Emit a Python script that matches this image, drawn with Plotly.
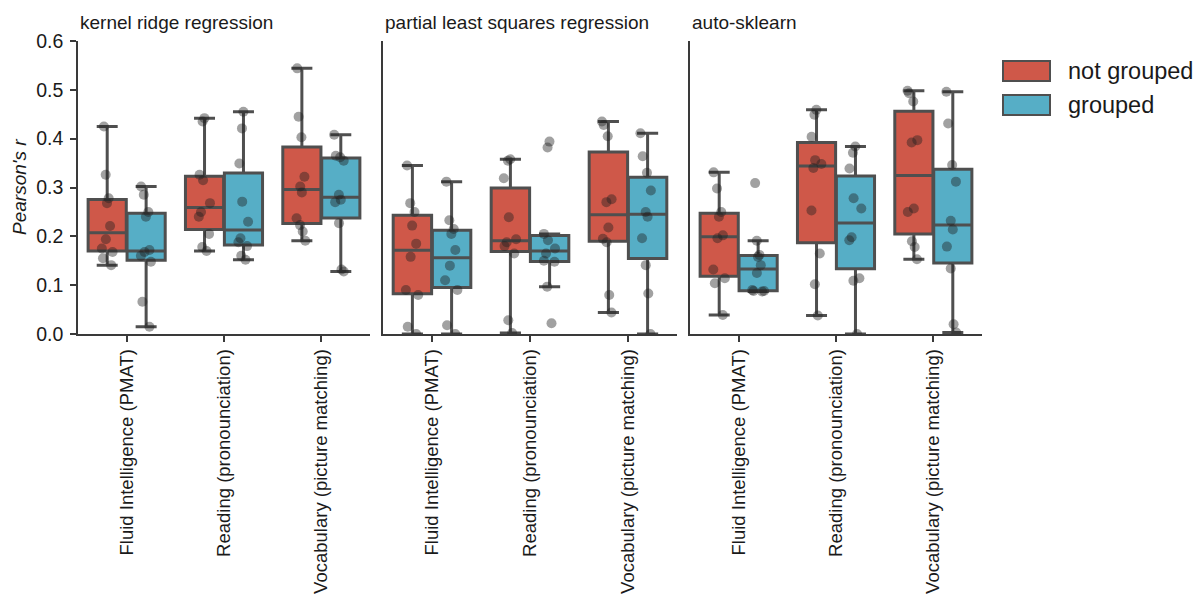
import numpy as np
import plotly.graph_objects as go

# ---------------- data ----------------
categories = ["Fluid Intelligence (PMAT)", "Reading (pronounciation)", "Vocabulary (picture matching)"]
models = ["kernel ridge regression", "partial least squares regression", "auto-sklearn"]
groups = ["not grouped", "grouped"]

krr_not_grouped = [
    [0.141, 0.155, 0.168, 0.175, 0.194, 0.221, 0.268, 0.278, 0.326, 0.425],
    [0.170, 0.178, 0.205, 0.240, 0.250, 0.268, 0.315, 0.326, 0.435, 0.442],
    [0.191, 0.210, 0.223, 0.237, 0.290, 0.302, 0.322, 0.403, 0.445, 0.544],
]
krr_grouped = [
    [0.015, 0.066, 0.148, 0.160, 0.168, 0.172, 0.240, 0.250, 0.285, 0.302],
    [0.152, 0.160, 0.180, 0.188, 0.196, 0.230, 0.271, 0.349, 0.421, 0.455],
    [0.128, 0.132, 0.227, 0.270, 0.275, 0.285, 0.355, 0.362, 0.365, 0.408],
]
pls_not_grouped = [
    [0.000, 0.015, 0.080, 0.090, 0.158, 0.185, 0.222, 0.250, 0.268, 0.345],
    [0.002, 0.028, 0.165, 0.180, 0.188, 0.194, 0.239, 0.319, 0.355, 0.358],
    [0.044, 0.080, 0.188, 0.195, 0.218, 0.270, 0.276, 0.405, 0.428, 0.435],
]
pls_grouped = [
    [0.000, 0.018, 0.090, 0.110, 0.140, 0.172, 0.205, 0.215, 0.233, 0.312],
    [0.022, 0.097, 0.148, 0.150, 0.165, 0.175, 0.192, 0.205, 0.382, 0.394],
    [0.000, 0.083, 0.141, 0.196, 0.240, 0.250, 0.294, 0.330, 0.364, 0.411],
]
autosk_not_grouped = [
    [0.039, 0.104, 0.114, 0.132, 0.196, 0.202, 0.240, 0.250, 0.298, 0.331],
    [0.038, 0.102, 0.165, 0.253, 0.340, 0.348, 0.356, 0.404, 0.449, 0.459],
    [0.153, 0.178, 0.190, 0.250, 0.257, 0.392, 0.397, 0.476, 0.493, 0.498],
]
autosk_grouped = [
    [0.087, 0.088, 0.088, 0.090, 0.125, 0.141, 0.158, 0.162, 0.191, 0.309],
    [0.000, 0.109, 0.114, 0.192, 0.198, 0.257, 0.278, 0.339, 0.371, 0.384],
    [0.003, 0.020, 0.134, 0.179, 0.214, 0.232, 0.312, 0.346, 0.431, 0.496],
]

y_ticks = [0.0, 0.1, 0.2, 0.3, 0.4, 0.5, 0.6]
y_tick_labels = ["0.0", "0.1", "0.2", "0.3", "0.4", "0.5", "0.6"]

panel_data = [
    (krr_not_grouped, krr_grouped),
    (pls_not_grouped, pls_grouped),
    (autosk_not_grouped, autosk_grouped),
]

# ---------------- style ----------------
group_colors = ["#CF5849", "#56AEC6"]
edge_color = "#4F4F4F"
point_color = "rgba(30,30,30,0.42)"
font_family = "Liberation Sans, Arial, Helvetica, sans-serif"

W, H = 1203, 601
OFF = 8  # page body margin offset
# target on-screen plot area
left_px, right_px, top_px, bottom_px = 78, 982, 41, 334
ml = left_px - OFF
mt = top_px - OFF
plot_w = right_px - left_px
plot_h = bottom_px - top_px
mr = W - ml - plot_w
mb = H - mt - plot_h
panel_px = [(78, 370), (383, 677), (690, 982)]
domains = [[(a - left_px) / plot_w, (b - left_px) / plot_w] for a, b in panel_px]


def px_x(x):
    return (x - left_px) / plot_w


def px_y(y):
    return (bottom_px - y) / plot_h


def box_stats(values):
    v = np.asarray(values, dtype=float)
    q1, med, q3 = np.percentile(v, [25, 50, 75])
    iqr = q3 - q1
    lo = v[v >= q1 - 1.5 * iqr].min()
    hi = v[v <= q3 + 1.5 * iqr].max()
    return q1, med, q3, lo, hi


fig = go.Figure()

for p, (series_ng, series_g) in enumerate(panel_data):
    xa = "x" if p == 0 else f"x{p + 1}"
    ya = "y" if p == 0 else f"y{p + 1}"
    for gi, series in enumerate([series_ng, series_g]):
        stats = [box_stats(v) for v in series]
        fig.add_trace(go.Box(
            x=categories,
            q1=[s[0] for s in stats],
            median=[s[1] for s in stats],
            q3=[s[2] for s in stats],
            lowerfence=[s[3] for s in stats],
            upperfence=[s[4] for s in stats],
            name=groups[gi],
            offsetgroup=groups[gi],
            fillcolor=group_colors[gi],
            line=dict(color=edge_color, width=3),
            whiskerwidth=0.55,
            boxpoints=False,
            showlegend=False,
            xaxis=xa, yaxis=ya,
        ))
    for gi, series in enumerate([series_ng, series_g]):
        xs, ys = [], []
        for c, vals in zip(categories, series):
            xs += [c] * len(vals)
            ys += list(vals)
        fig.add_trace(go.Box(
            x=xs, y=ys,
            name=groups[gi],
            offsetgroup=groups[gi],
            fillcolor="rgba(0,0,0,0)",
            line=dict(color="rgba(0,0,0,0)", width=0),
            boxpoints="all", jitter=0.4, pointpos=0,
            marker=dict(color=point_color, size=10, line=dict(width=0)),
            showlegend=False,
            hoverinfo="y",
            xaxis=xa, yaxis=ya,
        ))

axis_common = dict(
    showline=True, linecolor="#3a3a3a", linewidth=1.5,
    showgrid=False, zeroline=False, mirror=False,
)

layout = dict(
    width=W, height=H,
    margin=dict(l=ml, r=mr, t=mt, b=mb),
    paper_bgcolor="white", plot_bgcolor="white",
    font=dict(family=font_family, size=18, color="#1a1a1a"),
    boxmode="group", boxgap=0.2, boxgroupgap=0.02,
    showlegend=False,
)

for p in range(3):
    xk = "xaxis" if p == 0 else f"xaxis{p + 1}"
    yk = "yaxis" if p == 0 else f"yaxis{p + 1}"
    layout[xk] = dict(
        axis_common,
        domain=domains[p],
        anchor="y" if p == 0 else f"y{p + 1}",
        type="category",
        categoryorder="array", categoryarray=categories,
        range=[-0.5, 2.5],
        ticks="outside", ticklen=6, tickwidth=1.5, tickcolor="#3a3a3a",
        tickangle=-90, tickfont=dict(size=18.5),
        automargin=False,
    )
    ydict = dict(
        axis_common,
        domain=[0, 1],
        anchor="x" if p == 0 else f"x{p + 1}",
        range=[0, 0.6],
        automargin=False,
    )
    if p == 0:
        ydict.update(
            tickmode="array", tickvals=y_ticks, ticktext=y_tick_labels,
            ticks="outside", ticklen=6, tickwidth=1.5, tickcolor="#3a3a3a",
            tickfont=dict(size=19.5), ticklabelstandoff=3,
        )
    else:
        ydict.update(matches="y", showticklabels=False, ticks="")
    layout[yk] = ydict

fig.update_layout(**layout)

# panel titles
for p, m in enumerate(models):
    fig.add_annotation(
        text=m, xref="paper", yref="paper",
        x=domains[p][0], y=1, xanchor="left", yanchor="bottom",
        yshift=6, showarrow=False, font=dict(size=19, color="#1a1a1a"),
    )

# y-axis title
fig.add_annotation(
    text="<i>Pearson's r</i>", xref="paper", yref="paper",
    x=px_x(19), y=px_y(187), textangle=-90,
    xanchor="center", yanchor="middle", showarrow=False,
    font=dict(size=19, color="#1a1a1a"),
)

# legend (drawn manually to get wide patches)
leg_rows = [71, 105]
for gi, g in enumerate(groups):
    yc = leg_rows[gi]
    fig.add_shape(
        type="rect", xref="paper", yref="paper",
        x0=px_x(1003), x1=px_x(1050),
        y0=px_y(yc + 10), y1=px_y(yc - 10),
        fillcolor=group_colors[gi], line=dict(color=edge_color, width=2),
    )
    fig.add_annotation(
        text=g, xref="paper", yref="paper",
        x=px_x(1066), y=px_y(yc),
        xanchor="left", yanchor="middle", showarrow=False,
        font=dict(size=23.5, color="#1a1a1a"),
    )

fig.write_html("out.html")
